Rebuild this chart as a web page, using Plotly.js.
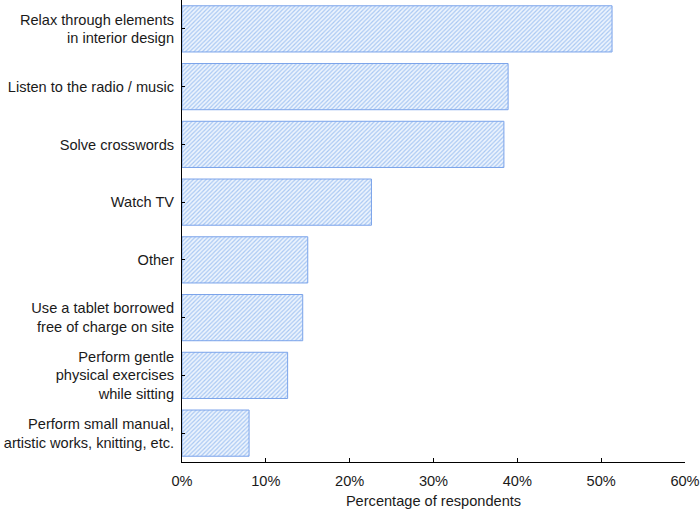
<!DOCTYPE html>
<html>
<head>
<meta charset="utf-8">
<script src="https://cdn.plot.ly/plotly-3.0.1.min.js"></script>
<style>html,body{margin:0;padding:0;background:#fff;}#chart{width:700px;height:513px;}</style>
</head>
<body>
<div id="chart"></div>
<script>
const categories = [
  "Relax through elements<br>in interior design",
  "Listen to the radio / music",
  "Solve crosswords",
  "Watch TV",
  "Other",
  "Use a tablet borrowed<br>free of charge on site",
  "Perform gentle<br>physical exercises<br>while sitting",
  "Perform small manual,<br>artistic works, knitting, etc."
];
const values = [51.3, 38.9, 38.4, 22.6, 15.0, 14.4, 12.6, 8.0];
const xTickValues = [0, 10, 20, 30, 40, 50, 60];
const xTickLabels = ["0%", "10%", "20%", "30%", "40%", "50%", "60%"];

const trace = {
  type: "bar",
  orientation: "h",
  y: categories,
  x: values,
  width: 0.8,
  marker: {
    color: "#a9c8f3",
    line: {color: "#7aa3ea", width: 1},
    pattern: {shape: "/", bgcolor: "#edf4fd", fgcolor: "#a9c8f3", size: 3, solidity: 0.4}
  },
  hoverinfo: "none"
};

const layout = {
  width: 700, height: 513,
  margin: {l: 182, r: 15, t: 0, b: 51},
  paper_bgcolor: "#fff", plot_bgcolor: "#fff",
  font: {family: "Liberation Sans, Arial, sans-serif", size: 14.6, color: "#1a1a1a"},
  showlegend: false,
  bargap: 0.2,
  xaxis: {
    range: [0, 60],
    tickvals: xTickValues, ticktext: xTickLabels,
    showgrid: false, zeroline: false,
    showline: true, linecolor: "#000", linewidth: 1,
    ticks: "inside", ticklen: 4, tickcolor: "#000",
    ticklabelstandoff: 5,
    ticklabeloverflow: "allow",
    automargin: false,
    title: {text: "Percentage of respondents", font: {size: 14.6}, standoff: 8},
    fixedrange: true
  },
  yaxis: {
    type: "category",
    autorange: "reversed",
    showgrid: false, zeroline: false,
    showline: true, linecolor: "#000", linewidth: 1,
    ticks: "inside", ticklen: 3, tickcolor: "#000",
    ticklabelstandoff: 4,
    ticklabeloverflow: "allow",
    automargin: false,
    fixedrange: true
  }
};

Plotly.newPlot("chart", [trace], layout, {displayModeBar: false, staticPlot: true});
</script>
</body>
</html>
